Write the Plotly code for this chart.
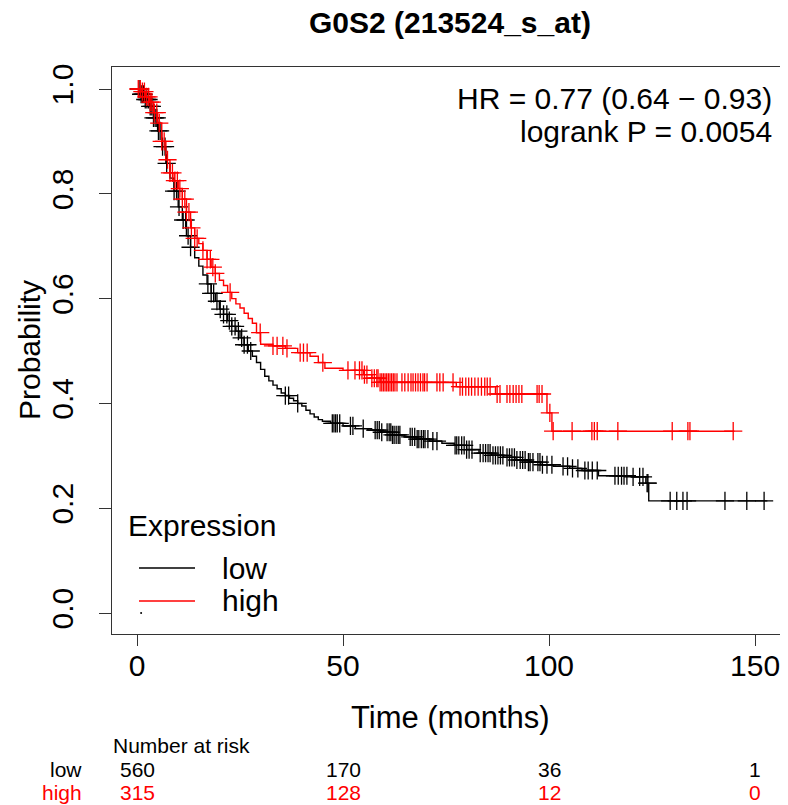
import bisect
import plotly.graph_objects as go

# Kaplan-Meier steps: (months, survival)
low_time = [0, 1, 2, 3, 4, 5, 6, 7, 8, 9, 10, 11, 12, 13, 14, 15, 16, 17, 18, 19,
            20, 21, 22, 23, 24, 25, 26, 27, 28, 29, 30, 31, 32, 33, 34, 35, 36, 37,
            38, 39, 40, 41, 42, 43, 44, 45, 47, 50, 53, 56, 59, 62, 65, 68, 71, 74,
            77, 80, 83, 86, 89, 92, 95, 98, 101, 105, 108, 112, 120, 123.5, 124.2, 153]
low_surv = [1.0, 0.99, 0.98, 0.967, 0.945, 0.92, 0.89, 0.858, 0.83, 0.805, 0.775, 0.75,
            0.72, 0.698, 0.678, 0.662, 0.645, 0.628, 0.61, 0.595, 0.58, 0.57, 0.558,
            0.547, 0.538, 0.525, 0.512, 0.5, 0.49, 0.478, 0.465, 0.452, 0.443, 0.435,
            0.428, 0.42, 0.415, 0.41, 0.405, 0.4, 0.395, 0.387, 0.38, 0.374, 0.369,
            0.366, 0.362, 0.357, 0.352, 0.349, 0.345, 0.34, 0.336, 0.332, 0.328, 0.324,
            0.32, 0.312, 0.305, 0.301, 0.297, 0.292, 0.288, 0.283, 0.28, 0.276, 0.272,
            0.262, 0.26, 0.248, 0.214, 0.214]

high_time = [0, 1, 2, 3, 4, 5, 6, 7, 8, 9, 10, 11, 12, 13, 14, 15, 16, 17, 18, 19,
             20, 21, 22, 23, 24, 25, 26, 27, 28, 29, 30, 33, 36, 39, 42, 44, 45.6, 50,
             55, 57, 59, 77.5, 87, 99.5, 100.7, 145]
high_surv = [1.0, 0.995, 0.985, 0.975, 0.955, 0.935, 0.9, 0.865, 0.84, 0.825, 0.81,
             0.79, 0.765, 0.735, 0.715, 0.705, 0.692, 0.675, 0.66, 0.648, 0.635, 0.625,
             0.612, 0.6, 0.59, 0.582, 0.572, 0.562, 0.553, 0.535, 0.513, 0.51, 0.505,
             0.497, 0.49, 0.478, 0.467, 0.463, 0.455, 0.448, 0.44, 0.432, 0.418, 0.382,
             0.347, 0.347]

# censoring times (months)
low_cens = [0.5, 1, 1.3, 1.6, 2, 2.4, 2.8, 3.2, 3.6, 4, 4.4, 4.8, 5.2, 5.6, 6.2, 6.8,
            7.2, 9, 9.6, 10.2, 11.2, 11.8, 12.4, 13, 17.2, 18, 18.6, 19.4, 20.2, 21,
            21.8, 22.4, 23, 23.8, 24.6, 25.4, 26, 26.8, 27.6, 36, 36.8, 39, 47.4, 47.8,
            48.2, 48.6, 49.2, 51.8, 52.4, 54.9, 57.8, 58.3, 58.8, 59.4, 60.7, 61.2,
            61.6, 62, 62.4, 62.9, 63.4, 63.8, 66.3, 66.8, 67.4, 68, 68.4, 69, 69.5,
            69.9, 70.6, 71.8, 72.8, 77.2, 77.6, 78.1, 78.8, 79.4, 80, 80.6, 81.3, 83.3,
            84, 84.6, 85.2, 85.7, 86.4, 87, 87.6, 88.2, 88.8, 89.8, 90.4, 91, 91.6,
            92.2, 93, 93.6, 94.2, 95, 95.4, 96.1, 97.3, 97.8, 98.4, 99.5, 100.7, 103.4,
            104.5, 105.7, 107, 108.7, 109.5, 110.5, 111.7, 116, 116.8, 117.6, 118.2,
            118.9, 120.4, 122, 122.8, 123.8, 124, 129.4, 131, 132.5, 133.5, 142.7, 148,
            152.2]
high_cens = [0.3, 0.8, 1.3, 1.8, 2.3, 2.8, 3.2, 3.6, 4.2, 4.8, 5.4, 6, 6.6, 7.4, 8,
             8.6, 9.2, 9.8, 10.4, 11, 11.6, 12, 12.6, 13.2, 14, 14.6, 16, 17, 17.8,
             18.4, 19, 22.6, 29.9, 33, 34, 35.4, 36.4, 39.6, 40.4, 41.3, 45.1, 51.2,
             52.9, 54, 54.6, 55.2, 55.8, 57, 57.6, 58.2, 58.5, 59, 59.4, 59.8, 60.2,
             60.6, 61, 61.4, 61.8, 62.2, 62.6, 63.1, 64.3, 65, 65.8, 66.5, 67, 67.6,
             68.2, 68.8, 69.4, 69.8, 70.4, 72.8, 73.5, 74.3, 76.7, 78.4, 79, 79.8, 80.5,
             81.2, 82, 82.8, 83.6, 84.4, 85, 85.7, 87.4, 88.1, 89.8, 90.5, 91.3, 92,
             92.7, 93.4, 97.1, 97.6, 98.3, 100.2, 101, 105.6, 110.4, 111, 111.7, 116.7,
             129.9, 133.7, 134.2, 144.7]

risk_times = [0, 50, 100, 150]
risk_low = ["560", "170", "36", "1"]
risk_high = ["315", "128", "12", "0"]

FONT = "Liberation Sans, Arial, sans-serif"
RED = "#FF0000"
AX = "#333333"

# the page body has an 8px margin, so the figure is shrunk and shifted by it
OFF = 8
W, H = 788 - OFF, 805 - OFF
L, R, T, B = 112 - OFF, 0, 67 - OFF, 171


def px_x(px):
    return (px - OFF - L) / (W - L - R)


def px_y(py):
    return (H - B - (py - OFF)) / (H - T - B)


def surv_at(times, surv, t):
    return surv[bisect.bisect_right(times, t) - 1]


fig = go.Figure()
for times, surv, cens, col in [(low_time, low_surv, low_cens, "black"),
                               (high_time, high_surv, high_cens, RED)]:
    fig.add_trace(go.Scatter(x=times, y=surv, mode="lines",
                             line=dict(shape="hv", color=col, width=1.4),
                             hoverinfo="skip"))
    fig.add_trace(go.Scatter(x=cens, y=[surv_at(times, surv, t) for t in cens],
                             mode="markers",
                             marker=dict(symbol="cross-thin", size=13,
                                         line=dict(width=1.3, color=col)),
                             hoverinfo="skip"))

# stray dot seen near the legend
fig.add_trace(go.Scatter(x=[1], y=[0], mode="markers",
                         marker=dict(size=2, color="black"), hoverinfo="skip"))

ann = []


def text(s, px, py, size=30, color="black", xanchor="center", angle=0):
    ann.append(dict(text=s, x=px_x(px), y=px_y(py), xref="paper", yref="paper",
                    showarrow=False, xanchor=xanchor, yanchor="middle",
                    textangle=angle, font=dict(family=FONT, size=size, color=color)))


text("<b>G0S2 (213524_s_at)</b>", 450, 22, size=30)
text("HR = 0.77 (0.64 \u2212 0.93)", 774, 98, xanchor="right")
text("logrank P = 0.0054", 774, 131, xanchor="right")
text("Time (months)", 450, 717, size=31)
text("Probability", 29, 350, size=30, angle=-90)
text("Expression", 126, 525, xanchor="left")
text("low", 220, 568, xanchor="left")
text("high", 220, 600, xanchor="left")
text("Number at risk", 111, 745, size=21, xanchor="left")
text("low", 84, 769, size=21, xanchor="right")
text("high", 84, 792, size=21, xanchor="right", color=RED)
for t, a, b in zip(risk_times, risk_low, risk_high):
    for s, py, col in [(a, 769, "black"), (b, 792, RED)]:
        ann.append(dict(text=s, x=t, y=px_y(py), xref="x", yref="paper",
                        showarrow=False, xanchor="center", yanchor="middle",
                        font=dict(family=FONT, size=21, color=col)))

shapes = [
    dict(type="line", xref="paper", yref="paper", x0=px_x(139), x1=px_x(195),
         y0=px_y(568), y1=px_y(568), line=dict(color="black", width=1.3)),
    dict(type="line", xref="paper", yref="paper", x0=px_x(139), x1=px_x(195),
         y0=px_y(601), y1=px_y(601), line=dict(color=RED, width=1.3)),
]

fig.update_layout(
    width=W, height=H,
    margin=dict(l=L, r=R, t=T, b=B),
    paper_bgcolor="white", plot_bgcolor="white",
    showlegend=False,
    font=dict(family=FONT, size=30, color="black"),
    annotations=ann, shapes=shapes,
    xaxis=dict(range=[-6.07, 158.0], tickvals=[0, 50, 100, 150],
               ticks="outside", ticklen=11, tickwidth=1.3, tickcolor=AX,
               showline=True, linecolor=AX, linewidth=1.3, mirror=True,
               showgrid=False, zeroline=False, ticklabelstandoff=-6,
               tickfont=dict(family=FONT, size=30)),
    yaxis=dict(range=[-0.04, 1.042], tickvals=[0, 0.2, 0.4, 0.6, 0.8, 1.0],
               tickformat=".1f", tickangle=-90,
               ticks="outside", ticklen=12, tickwidth=1.3, tickcolor=AX,
               showline=True, linecolor=AX, linewidth=1.3,
               showgrid=False, zeroline=False, ticklabelstandoff=14,
               tickfont=dict(family=FONT, size=30)),
)

fig.write_html("out.html")
